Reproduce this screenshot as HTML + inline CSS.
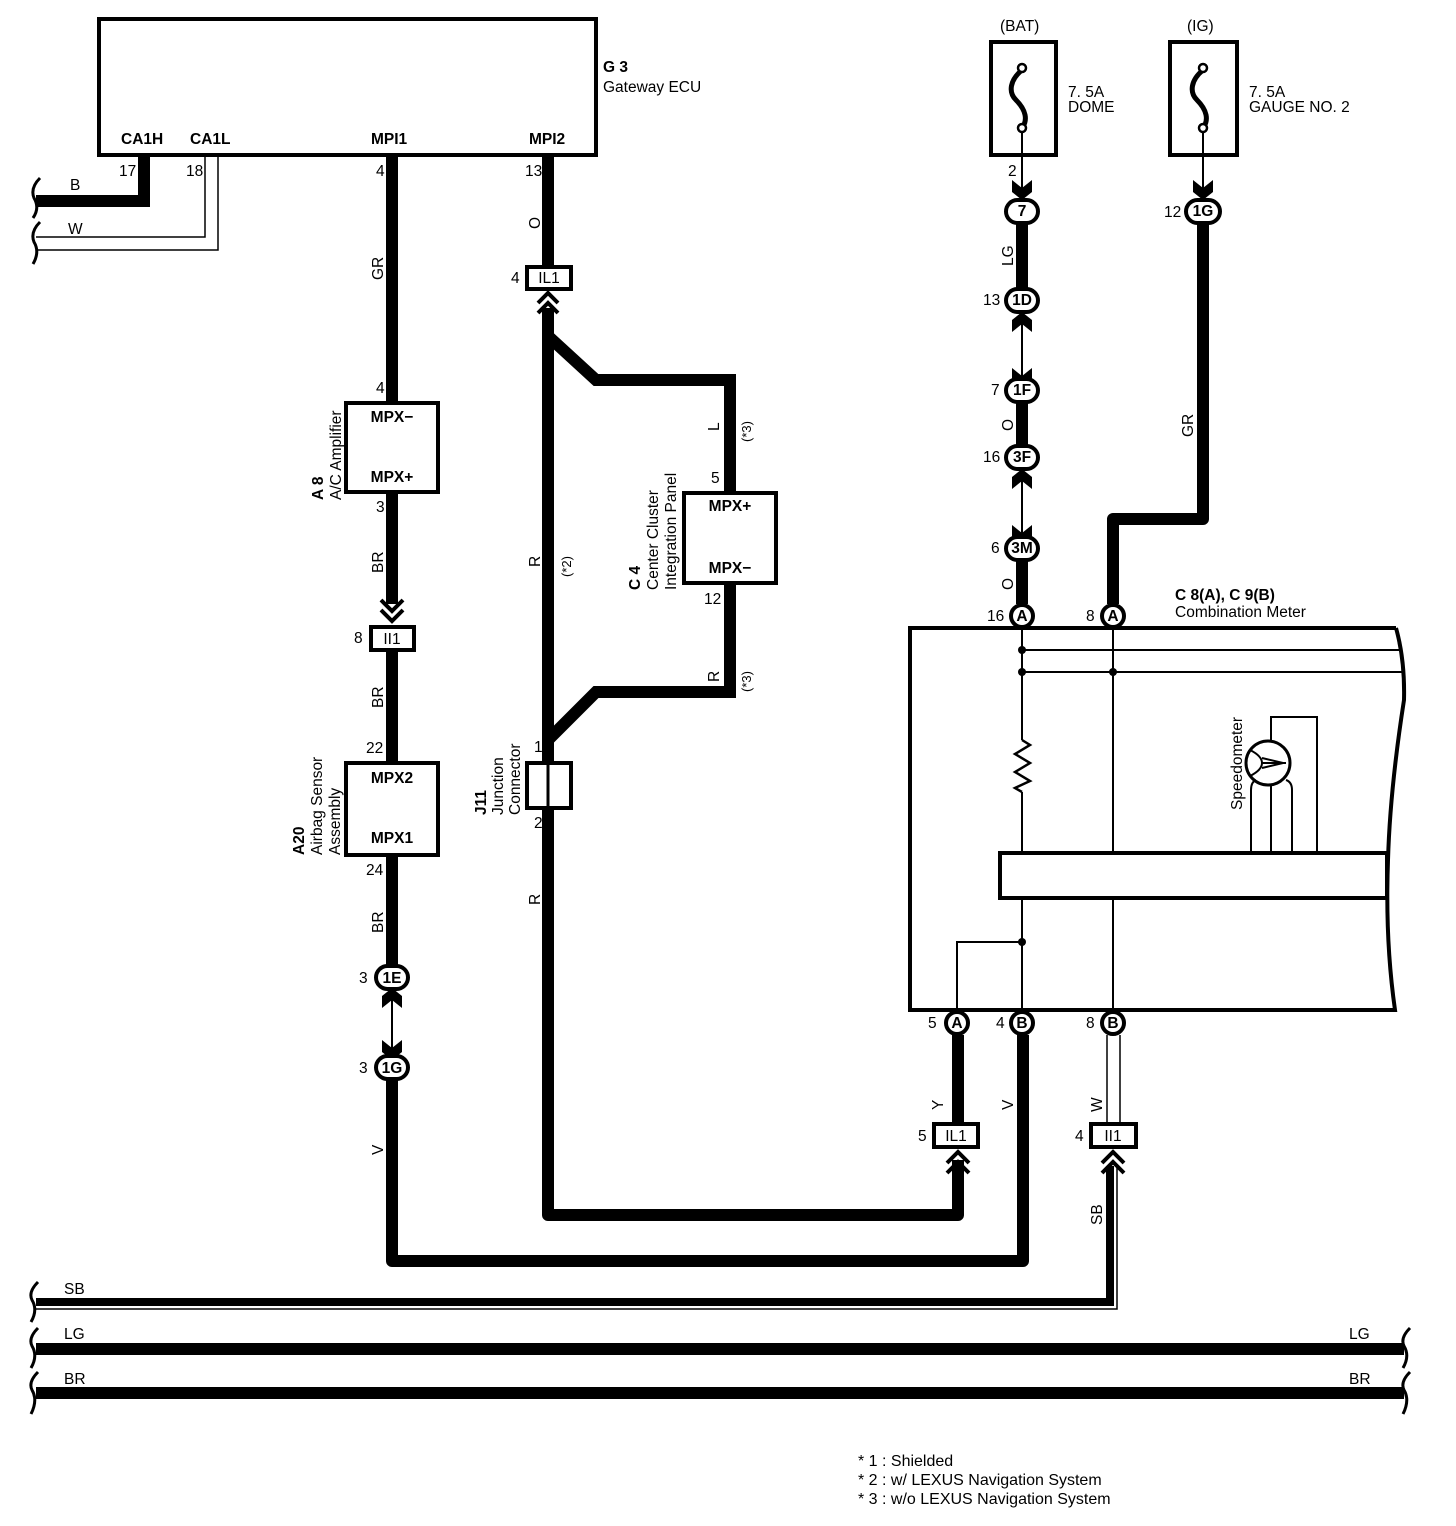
<!DOCTYPE html>
<html><head><meta charset="utf-8"><style>
html,body{margin:0;padding:0;background:#fff}
svg{display:block}
text{font-family:"Liberation Sans",sans-serif;font-size:15.5px;fill:#000}
.b{font-weight:bold}
.c{text-anchor:middle}
</style></head><body>
<svg width="1456" height="1526" viewBox="0 0 1456 1526" xmlns="http://www.w3.org/2000/svg">
<g fill="none" stroke="#000">
<rect x="99" y="19" width="497" height="136" stroke-width="4" fill="#fff"/>
<polyline points="144,156 144,201 36,201" stroke-width="12"/>
<polyline points="205,156 205,237 36,237" stroke-width="1.5"/>
<polyline points="218,156 218,250 36,250" stroke-width="1.5"/>
<path d="M40,178 Q30,188 34,198 Q40,208 33,218 M40,222 Q30,232 34,242 Q40,252 33,264" stroke-width="3"/>

<line x1="392" y1="156" x2="392" y2="403" stroke-width="12"/>
<rect x="346" y="403" width="92" height="89" stroke-width="4" fill="#fff"/>
<line x1="392" y1="492" x2="392" y2="604" stroke-width="12"/>
<polyline points="381,600 392,611 403,600" stroke-width="4"/>
<polyline points="381,610 392,621 403,610" stroke-width="4"/>
<rect x="371" y="627" width="43" height="23" stroke-width="4" fill="#fff"/>
<line x1="392" y1="650" x2="392" y2="763" stroke-width="12"/>
<rect x="346" y="763" width="92" height="92" stroke-width="4" fill="#fff"/>
<line x1="392" y1="855" x2="392" y2="966" stroke-width="12"/>
<line x1="392" y1="995" x2="392" y2="1050" stroke-width="2"/>
<polyline points="392,1080 392,1261 1023,1261 1023,1035" stroke-width="12" stroke-linejoin="round"/>

<line x1="548" y1="156" x2="548" y2="267" stroke-width="12"/>
<rect x="527" y="267" width="44" height="22" stroke-width="4" fill="#fff"/>
<polyline points="538,303 548,293 558,303" stroke-width="4"/>
<polyline points="538,313 548,303 558,313" stroke-width="4"/>
<polyline points="548,308 548,1215 958,1215 958,1160" stroke-width="12" stroke-linejoin="round"/>
<polyline points="947,1163 958,1152 969,1163" stroke-width="4"/>
<polyline points="947,1173 958,1162 969,1173" stroke-width="4"/>
<polyline points="548,336 596,380 730,380 730,493" stroke-width="12"/>
<rect x="684" y="493" width="92" height="90" stroke-width="4" fill="#fff"/>
<polyline points="730,583 730,692 596,692 548,740" stroke-width="12"/>
<rect x="527" y="763" width="44" height="45" stroke-width="4" fill="#fff"/>
<line x1="548" y1="763" x2="548" y2="808" stroke-width="3"/>

<rect x="991" y="42" width="65" height="113" stroke-width="4"/>
<rect x="1170" y="42" width="67" height="113" stroke-width="4"/>
<path d="M1022,70 C1010,80 1008,92 1016,100 C1026,110 1028,120 1022,128" stroke-width="5"/>
<path d="M1203,70 C1191,80 1189,92 1197,100 C1207,110 1209,120 1203,128" stroke-width="5"/>
<circle cx="1022" cy="68" r="4" stroke-width="2.5" fill="#fff"/>
<circle cx="1022" cy="128" r="4" stroke-width="2.5" fill="#fff"/>
<circle cx="1203" cy="68" r="4" stroke-width="2.5" fill="#fff"/>
<circle cx="1203" cy="128" r="4" stroke-width="2.5" fill="#fff"/>
<line x1="1022" y1="132" x2="1022" y2="192" stroke-width="2"/>
<line x1="1203" y1="132" x2="1203" y2="192" stroke-width="2"/>

<line x1="1022" y1="222" x2="1022" y2="290" stroke-width="12"/>
<line x1="1022" y1="320" x2="1022" y2="380" stroke-width="2"/>
<line x1="1022" y1="402" x2="1022" y2="446" stroke-width="12"/>
<line x1="1022" y1="477" x2="1022" y2="537" stroke-width="2"/>
<line x1="1022" y1="559" x2="1022" y2="604" stroke-width="12"/>
<polyline points="1203,222 1203,519 1113,519 1113,604" stroke-width="12" stroke-linejoin="round"/>

<path d="M1396,628 L910,628 L910,1010 L1395,1010 Q1385,940 1388,860 Q1390,790 1404,700 Q1405,660 1396,628" stroke-width="4" fill="#fff"/>
<line x1="1022" y1="628" x2="1022" y2="740" stroke-width="2"/>
<polyline points="1022,740 1030,745 1015,754 1030,763 1015,772 1030,781 1015,788 1022,792" stroke-width="2.5"/>
<line x1="1022" y1="792" x2="1022" y2="853" stroke-width="2"/>
<line x1="1113" y1="628" x2="1113" y2="853" stroke-width="2"/>
<line x1="1022" y1="650" x2="1399" y2="650" stroke-width="2"/>
<line x1="1022" y1="672" x2="1402" y2="672" stroke-width="2"/>
<rect x="1000" y="853" width="387" height="45" stroke-width="4" fill="#fff"/>
<line x1="1022" y1="898" x2="1022" y2="1010" stroke-width="2"/>
<line x1="1113" y1="898" x2="1113" y2="1010" stroke-width="2"/>
<polyline points="1022,942 957,942 957,1010" stroke-width="2"/>
<polyline points="1271,741 1271,717 1317,717 1317,851" stroke-width="2"/>
<circle cx="1268" cy="763" r="22" stroke-width="3" fill="#fff"/>
<path d="M1251,851 L1251,790 Q1251,782 1256,780 M1271,785 L1271,851 M1292,851 L1292,790 Q1292,782 1286,780" stroke-width="2"/>
<path d="M1250,750 Q1262,756 1262,763 Q1262,770 1250,776 M1262,763 L1286,763 M1262,758 L1283,763 L1262,768" stroke-width="2"/>

<line x1="958" y1="1035" x2="958" y2="1124" stroke-width="12"/>
<rect x="934" y="1124" width="44" height="23" stroke-width="4" fill="#fff"/>
<line x1="1107" y1="1035" x2="1107" y2="1124" stroke-width="1.5"/>
<line x1="1120" y1="1035" x2="1120" y2="1124" stroke-width="1.5"/>
<rect x="1091" y="1124" width="45" height="23" stroke-width="4" fill="#fff"/>
<polyline points="1102,1163 1113,1152 1124,1163" stroke-width="4"/>
<polyline points="1102,1173 1113,1162 1124,1173" stroke-width="4"/>
<polyline points="1110,1166 1110,1302 36,1302" stroke-width="8"/>
<polyline points="1117,1166 1117,1309 36,1309" stroke-width="1.5"/>
<line x1="36" y1="1349" x2="1404" y2="1349" stroke-width="12"/>
<line x1="36" y1="1393" x2="1404" y2="1393" stroke-width="12"/>
<path d="M38,1282 Q28,1292 32,1300 Q38,1310 31,1322 M38,1328 Q28,1338 32,1346 Q38,1356 31,1368 M38,1372 Q28,1382 32,1390 Q38,1400 31,1414" stroke-width="3"/>
<path d="M1410,1328 Q1400,1338 1404,1346 Q1410,1356 1403,1368 M1410,1372 Q1400,1382 1404,1390 Q1410,1400 1403,1414" stroke-width="3"/>
</g>

<g fill="#000">
<path d="M1012,180 L1022,188 L1032,180 L1032,192 L1022,200 L1012,192 Z"/>
<path d="M1193,180 L1203,188 L1213,180 L1213,192 L1203,200 L1193,192 Z"/>
<path d="M1012,332 L1022,324 L1032,332 L1032,320 L1022,312 L1012,320 Z"/>
<path d="M1012,368 L1022,376 L1032,368 L1032,380 L1022,388 L1012,380 Z"/>
<path d="M1012,489 L1022,481 L1032,489 L1032,477 L1022,469 L1012,477 Z"/>
<path d="M1012,525 L1022,533 L1032,525 L1032,537 L1022,545 L1012,537 Z"/>
<path d="M382,1008 L392,1000 L402,1008 L402,996 L392,988 L382,996 Z"/>
<path d="M382,1040 L392,1048 L402,1040 L402,1052 L392,1060 L382,1052 Z"/>
<circle cx="1022" cy="650" r="4"/><circle cx="1022" cy="672" r="4"/><circle cx="1113" cy="672" r="4"/><circle cx="1022" cy="942" r="4"/>
</g>

<g fill="#fff" stroke="#000" stroke-width="4">
<rect x="1006" y="200" width="32" height="23" rx="11.5"/>
<rect x="1186" y="200" width="34" height="23" rx="11.5"/>
<rect x="1006" y="289" width="32" height="23" rx="11.5"/>
<rect x="1006" y="379" width="32" height="23" rx="11.5"/>
<rect x="1006" y="446" width="32" height="23" rx="11.5"/>
<rect x="1006" y="537" width="32" height="23" rx="11.5"/>
<rect x="376" y="966" width="32" height="23" rx="11.5"/>
<rect x="376" y="1056" width="32" height="23" rx="11.5"/>
<circle cx="1022" cy="616" r="11"/>
<circle cx="1113" cy="616" r="11"/>
<circle cx="957" cy="1023" r="11"/>
<circle cx="1022" cy="1023" r="11"/>
<circle cx="1113" cy="1023" r="11"/>
</g>

<text x="603" y="72" class="b">G 3</text>
<text x="603" y="92">Gateway ECU</text>
<text x="121" y="144" class="b">CA1H</text>
<text x="190" y="144" class="b">CA1L</text>
<text x="371" y="144" class="b">MPI1</text>
<text x="529" y="144" class="b">MPI2</text>
<text x="119" y="176">17</text>
<text x="186" y="176">18</text>
<text x="70" y="190">B</text>
<text x="68" y="234">W</text>
<text x="376" y="176">4</text>
<text x="525" y="176">13</text>
<text x="376" y="393">4</text>
<text x="376" y="512">3</text>
<text x="392" y="422" class="b c">MPX−</text>
<text x="392" y="482" class="b c">MPX+</text>
<text x="354" y="643">8</text>
<text x="392" y="644" class="c">II1</text>
<text x="366" y="753">22</text>
<text x="366" y="875">24</text>
<text x="392" y="783" class="b c">MPX2</text>
<text x="392" y="843" class="b c">MPX1</text>
<text x="359" y="983">3</text><text x="392" y="983" class="b c">1E</text>
<text x="359" y="1073">3</text><text x="392" y="1073" class="b c">1G</text>
<text x="511" y="283">4</text>
<text x="549" y="283" class="c">IL1</text>
<text x="711" y="483">5</text>
<text x="704" y="604">12</text>
<text x="730" y="511" class="b c">MPX+</text>
<text x="730" y="573" class="b c">MPX−</text>
<text x="534" y="752">1</text>
<text x="534" y="828">2</text>
<text x="1000" y="31">(BAT)</text>
<text x="1187" y="31">(IG)</text>
<text x="1068" y="97">7. 5A</text>
<text x="1068" y="112">DOME</text>
<text x="1249" y="97">7. 5A</text>
<text x="1249" y="112">GAUGE NO. 2</text>
<text x="1008" y="176">2</text>
<text x="1022" y="216" class="b c">7</text>
<text x="1164" y="217">12</text><text x="1203" y="216" class="b c">1G</text>
<text x="983" y="305">13</text><text x="1022" y="305" class="b c">1D</text>
<text x="991" y="395">7</text><text x="1022" y="395" class="b c">1F</text>
<text x="983" y="462">16</text><text x="1022" y="462" class="b c">3F</text>
<text x="991" y="553">6</text><text x="1022" y="553" class="b c">3M</text>
<text x="987" y="621">16</text><text x="1022" y="621" class="b c">A</text>
<text x="1086" y="621">8</text><text x="1113" y="621" class="b c">A</text>
<text x="1175" y="600" class="b">C 8(A), C 9(B)</text>
<text x="1175" y="617">Combination Meter</text>
<text x="928" y="1028">5</text><text x="957" y="1028" class="b c">A</text>
<text x="996" y="1028">4</text><text x="1022" y="1028" class="b c">B</text>
<text x="1086" y="1028">8</text><text x="1113" y="1028" class="b c">B</text>
<text x="918" y="1141">5</text><text x="956" y="1141" class="c">IL1</text>
<text x="1075" y="1141">4</text><text x="1113" y="1141" class="c">II1</text>
<text x="64" y="1294">SB</text>
<text x="64" y="1339">LG</text>
<text x="64" y="1384">BR</text>
<text x="1349" y="1339">LG</text>
<text x="1349" y="1384">BR</text>
<text x="858" y="1466" style="font-size:16px">* 1 : Shielded</text>
<text x="858" y="1485" style="font-size:16px">* 2 : w/ LEXUS Navigation System</text>
<text x="858" y="1504" style="font-size:16px">* 3 : w/o LEXUS Navigation System</text>

<g>
<text transform="translate(383,280) rotate(-90)">GR</text>
<text transform="translate(383,573) rotate(-90)">BR</text>
<text transform="translate(383,708) rotate(-90)">BR</text>
<text transform="translate(383,933) rotate(-90)">BR</text>
<text transform="translate(383,1155) rotate(-90)">V</text>
<text transform="translate(540,229) rotate(-90)">O</text>
<text transform="translate(540,567) rotate(-90)">R</text>
<text transform="translate(540,905) rotate(-90)">R</text>
<text transform="translate(571,577) rotate(-90)" style="font-size:13px">(*2)</text>
<text transform="translate(719,431) rotate(-90)">L</text>
<text transform="translate(751,442) rotate(-90)" style="font-size:13px">(*3)</text>
<text transform="translate(719,682) rotate(-90)">R</text>
<text transform="translate(751,692) rotate(-90)" style="font-size:13px">(*3)</text>
<text transform="translate(1013,266) rotate(-90)">LG</text>
<text transform="translate(1013,431) rotate(-90)">O</text>
<text transform="translate(1013,590) rotate(-90)">O</text>
<text transform="translate(1193,437) rotate(-90)">GR</text>
<text transform="translate(943,1110) rotate(-90)">Y</text>
<text transform="translate(1013,1110) rotate(-90)">V</text>
<text transform="translate(1102,1112) rotate(-90)">W</text>
<text transform="translate(1102,1225) rotate(-90)">SB</text>
<text class="b" transform="translate(323,500) rotate(-90)">A 8</text>
<text transform="translate(341,500) rotate(-90)">A/C Amplifier</text>
<text class="b" transform="translate(304,855) rotate(-90)">A20</text>
<text transform="translate(322,855) rotate(-90)">Airbag Sensor</text>
<text transform="translate(340,855) rotate(-90)">Assembly</text>
<text class="b" transform="translate(486,815) rotate(-90)">J11</text>
<text transform="translate(503,815) rotate(-90)">Junction</text>
<text transform="translate(520,815) rotate(-90)">Connector</text>
<text class="b" transform="translate(640,590) rotate(-90)">C 4</text>
<text transform="translate(658,590) rotate(-90)">Center Cluster</text>
<text transform="translate(676,590) rotate(-90)">Integration Panel</text>
<text transform="translate(1242,810) rotate(-90)">Speedometer</text>
</g>
</svg>
</body></html>
